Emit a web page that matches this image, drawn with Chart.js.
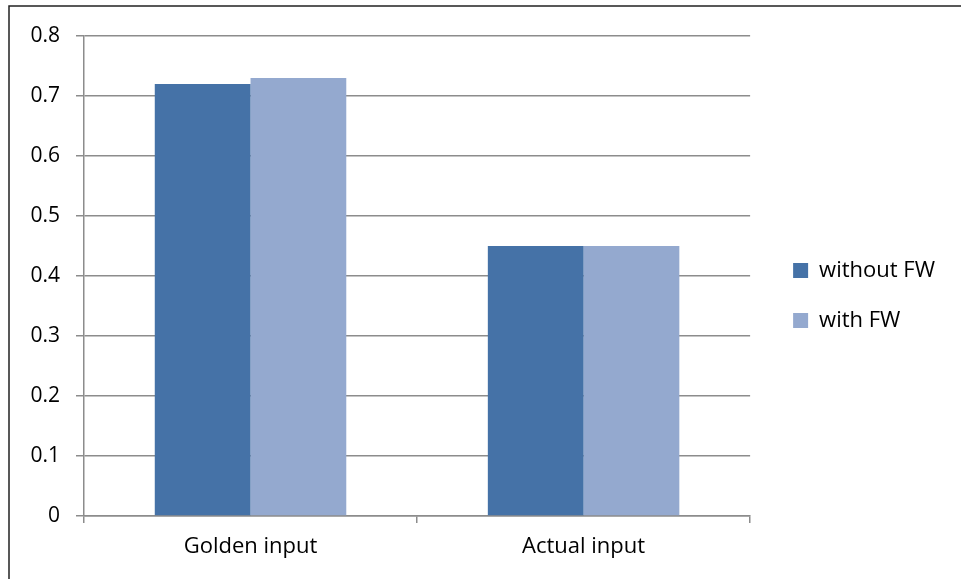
<!DOCTYPE html>
<html>
<head>
<meta charset="utf-8">
<script src="https://cdn.jsdelivr.net/npm/chart.js@4"></script>
<style>
  html, body { margin: 0; padding: 0; background: #fff; }
  #wrap { position: relative; width: 961px; height: 579px; overflow: hidden; }
</style>
</head>
<body>
<div id="wrap"><canvas id="myChart" width="961" height="579"></canvas></div>
<script>
// chart values
const categories = ['Golden input', 'Actual input'];
const withoutFW = [0.72, 0.45];
const withFW = [0.73, 0.45];
const seriesNames = ['without FW', 'with FW'];
const yTicks = [0, 0.1, 0.2, 0.3, 0.4, 0.5, 0.6, 0.7, 0.8];

const fontFamily = "'Open Sans', 'Liberation Sans', sans-serif";
const gridColor = '#8c8c8c';

// frame line on the left and top like the original picture
const framePlugin = {
    id: 'frame',
    beforeDraw(chart) {
        const c = chart.ctx;
        c.save();
        c.fillStyle = '#fff';
        c.fillRect(0, 0, chart.width, chart.height);
        c.strokeStyle = '#222';
        c.lineWidth = 1.5;
        c.beginPath();
        c.moveTo(9, chart.height);
        c.lineTo(9, 6);
        c.lineTo(chart.width, 6);
        c.stroke();
        c.restore();
    }
};

// nudge the legend a bit right and up
const legendShift = {
    id: 'legendShift',
    afterLayout(chart) {
        const lg = chart.legend;
        if (!lg) return;
        lg.left += 15; lg.right += 15;
        lg.top -= 12; lg.bottom -= 12;
    }
};

var ctx = document.getElementById('myChart').getContext('2d');
var myChart = new Chart(ctx, {
    type: 'bar',
    data: {
        labels: categories,
        datasets: [{
            label: seriesNames[0],
            data: withoutFW,
            backgroundColor: '#4572a7',
            categoryPercentage: 0.575,
            barPercentage: 1
        }, {
            label: seriesNames[1],
            data: withFW,
            backgroundColor: '#94a9cf',
            categoryPercentage: 0.575,
            barPercentage: 1
        }]
    },
    options: {
        responsive: false,
        animation: false,
        layout: {
            padding: { top: 36, left: 0, right: 31, bottom: 0 }
        },
        scales: {
            y: {
                min: 0,
                max: 0.8,
                afterBuildTicks: axis => {
                    axis.ticks = yTicks.map(v => ({ value: v }));
                },
                afterFit: axis => { axis.width = 84; },
                ticks: {
                    color: '#000',
                    padding: 16,
                    font: { family: fontFamily, size: 21 },
                    callback: v => +v.toFixed(1)
                },
                grid: { color: gridColor, lineWidth: 1.5, tickLength: 8 },
                border: { color: gridColor, width: 1.5 }
            },
            x: {
                afterFit: axis => { axis.height = 63; },
                ticks: {
                    color: '#000',
                    padding: 11,
                    font: { family: fontFamily, size: 22 }
                },
                grid: { drawOnChartArea: false, color: gridColor, lineWidth: 1.5, tickLength: 7 },
                border: { color: gridColor, width: 1.5 }
            }
        },
        plugins: {
            tooltip: { enabled: false },
            legend: {
                position: 'right',
                labels: {
                    color: '#000',
                    boxWidth: 15,
                    boxHeight: 15,
                    padding: 28,
                    font: { family: fontFamily, size: 22 }
                }
            }
        }
    },
    plugins: [framePlugin, legendShift]
});
</script>
</body>
</html>
